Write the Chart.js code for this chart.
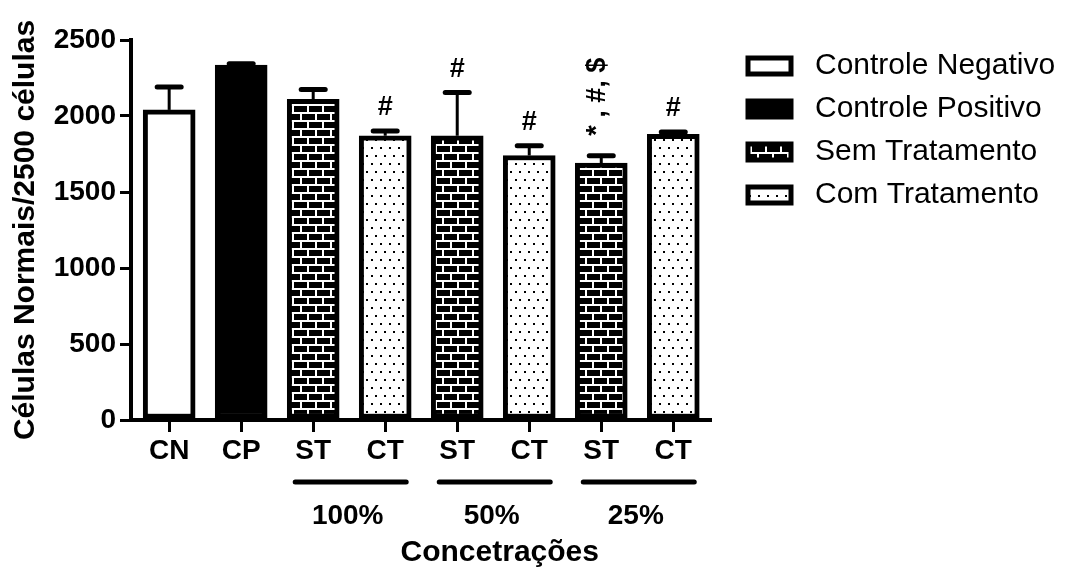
<!DOCTYPE html>
<html lang="pt">
<head>
<meta charset="UTF-8">
<title>Células Normais/2500 células</title>
<script src="https://cdn.jsdelivr.net/npm/chart.js"></script>
<style>
    html, body { margin: 0; padding: 0; background: #fff; }
    canvas { display: block; }
</style>
</head>
<body>
<canvas id="chart" width="1066" height="570"></canvas>
<script>
// data
var categories = ['CN', 'CP', 'ST', 'CT', 'ST', 'CT', 'ST', 'CT'];
var kinds = ['neg', 'pos', 'st', 'ct', 'st', 'ct', 'st', 'ct'];
var means = [2040, 2335, 2110, 1870, 1870, 1740, 1690, 1880];
var errors = [150, 8, 65, 32, 285, 65, 48, 15];
var marks = ['', '', '', '#', '#', '#', '* , #, $', '#'];
var groupLabels = ['100%', '50%', '25%'];
var groupFirst = [2, 4, 6];
var yTicks = [0, 500, 1000, 1500, 2000, 2500];
var legendLabels = ['Controle Negativo', 'Controle Positivo', 'Sem Tratamento', 'Com Tratamento'];
var legendKinds = ['neg', 'pos', 'st', 'ct'];

var FONT = 'Arial, "Liberation Sans", sans-serif';

// fill patterns
function brickPattern() {
    var c = document.createElement('canvas');
    c.width = 15; c.height = 16;
    var g = c.getContext('2d');
    g.fillStyle = '#000';
    g.fillRect(0, 0, 15, 16);
    g.fillStyle = '#fff';
    g.fillRect(0, 0, 15, 2);
    g.fillRect(0, 8, 15, 2);
    g.fillRect(0, 2, 2, 6);
    g.fillRect(7, 10, 2, 6);
    return g.createPattern(c, 'repeat');
}
function dotPattern() {
    var c = document.createElement('canvas');
    c.width = 9; c.height = 16;
    var g = c.getContext('2d');
    g.fillStyle = '#fff';
    g.fillRect(0, 0, 9, 16);
    g.fillStyle = '#000';
    g.fillRect(2, 3, 2, 2);
    g.fillRect(6, 11, 2, 2);
    return g.createPattern(c, 'repeat');
}
var fills = { neg: '#fff', pos: '#000', st: brickPattern(), ct: dotPattern() };

var extras = {
    id: 'extras',
    afterDatasetsDraw: function (chart) {
        var ctx = chart.ctx, xs = chart.scales.x, ys = chart.scales.y;
        ctx.save();
        ctx.strokeStyle = '#000';
        ctx.fillStyle = '#000';
        for (var i = 0; i < means.length; i++) {
            var x = xs.getPixelForValue(i);
            var y0 = ys.getPixelForValue(means[i]);
            var y1 = ys.getPixelForValue(means[i] + errors[i]);
            // error bar (upper only)
            ctx.lineCap = 'butt';
            ctx.lineWidth = 3;
            ctx.beginPath();
            ctx.moveTo(x, y0);
            ctx.lineTo(x, y1);
            ctx.stroke();
            ctx.lineCap = 'round';
            ctx.lineWidth = 5;
            ctx.beginPath();
            ctx.moveTo(x - 12, y1);
            ctx.lineTo(x + 12, y1);
            ctx.stroke();
            // significance marks
            if (marks[i]) {
                ctx.font = 'bold 27px ' + FONT;
                ctx.textBaseline = 'middle';
                if (marks[i].length > 1) {
                    ctx.save();
                    ctx.translate(x - 4, y1 - 20);
                    ctx.rotate(-Math.PI / 2);
                    ctx.textAlign = 'left';
                    ctx.fillText(marks[i], 0, 0);
                    ctx.restore();
                } else {
                    ctx.textAlign = 'center';
                    ctx.fillText(marks[i], x, y1 - 23);
                }
            }
        }
        ctx.restore();
    },
    afterDraw: function (chart) {
        var ctx = chart.ctx, xs = chart.scales.x;
        ctx.save();
        ctx.strokeStyle = '#000';
        ctx.fillStyle = '#000';
        // concentration groups under the axis
        var first = 0, last = 0;
        for (var g = 0; g < groupLabels.length; g++) {
            var a = xs.getPixelForValue(groupFirst[g]) - 18;
            var b = xs.getPixelForValue(groupFirst[g] + 1) + 21;
            if (g === 0) first = a;
            last = b;
            ctx.lineWidth = 5;
            ctx.lineCap = 'round';
            ctx.beginPath();
            ctx.moveTo(a, 482);
            ctx.lineTo(b, 482);
            ctx.stroke();
            ctx.font = 'bold 28px ' + FONT;
            ctx.textAlign = 'center';
            ctx.textBaseline = 'middle';
            ctx.fillText(groupLabels[g], (a + b) / 2 - 3, 516);
        }
        ctx.font = 'bold 30px ' + FONT;
        ctx.textAlign = 'center';
        ctx.textBaseline = 'middle';
        ctx.fillText('Concetrações', (first + last) / 2 + 5, 553);

        // legend
        for (var k = 0; k < legendLabels.length; k++) {
            var cy = 66 + k * 43;
            ctx.fillStyle = fills[legendKinds[k]];
            ctx.fillRect(748, cy - 8, 43, 16);
            ctx.lineWidth = 5;
            ctx.lineCap = 'butt';
            ctx.strokeRect(748, cy - 8, 43, 16);
            ctx.fillStyle = '#000';
            ctx.font = '30px ' + FONT;
            ctx.textAlign = 'left';
            ctx.textBaseline = 'middle';
            ctx.fillText(legendLabels[k], 815, cy);
        }
        ctx.restore();
    }
};

var chart = new Chart(document.getElementById('chart'), {
    type: 'bar',
    data: {
        datasets: [{
            data: means.map(function (v, i) { return { x: i, y: v }; }),
            backgroundColor: kinds.map(function (k) { return fills[k]; }),
            borderColor: '#000',
            borderWidth: 5,
            borderSkipped: false,
            barThickness: 52
        }]
    },
    options: {
        responsive: false,
        animation: false,
        layout: { padding: { top: 40, right: 356, bottom: 0, left: 0 } },
        plugins: { legend: { display: false }, tooltip: { enabled: false } },
        scales: {
            x: {
                type: 'linear',
                offset: false,
                min: -0.53,
                max: 7.51,
                afterBuildTicks: function (s) {
                    s.ticks = categories.map(function (c, i) { return { value: i }; });
                },
                afterFit: function (s) { s.height = 150; },
                ticks: {
                    callback: function (v, i) { return categories[i]; },
                    color: '#000',
                    font: { family: FONT, size: 28, weight: 'bold' },
                    padding: 2,
                    autoSkip: false,
                    maxRotation: 0
                },
                grid: { offset: false, drawOnChartArea: false, drawTicks: true, tickLength: 12, color: '#000', lineWidth: 3 },
                border: { display: true, color: '#000', width: 4 }
            },
            y: {
                min: 0,
                max: 2500,
                afterBuildTicks: function (s) {
                    s.ticks = yTicks.map(function (v) { return { value: v }; });
                },
                afterFit: function (s) { s.width = 131; },
                ticks: {
                    callback: function (v) { return String(v); },
                    color: '#000',
                    font: { family: FONT, size: 28, weight: 'bold' },
                    padding: 4
                },
                grid: { drawOnChartArea: false, drawTicks: true, tickLength: 11, color: '#000', lineWidth: 3 },
                border: { display: true, color: '#000', width: 4 },
                title: {
                    display: true,
                    text: 'Células Normais/2500 células',
                    color: '#000',
                    font: { family: FONT, size: 30, weight: 'bold' },
                    padding: { top: 8, bottom: 0 }
                }
            }
        }
    },
    plugins: [extras]
});
</script>
</body>
</html>
